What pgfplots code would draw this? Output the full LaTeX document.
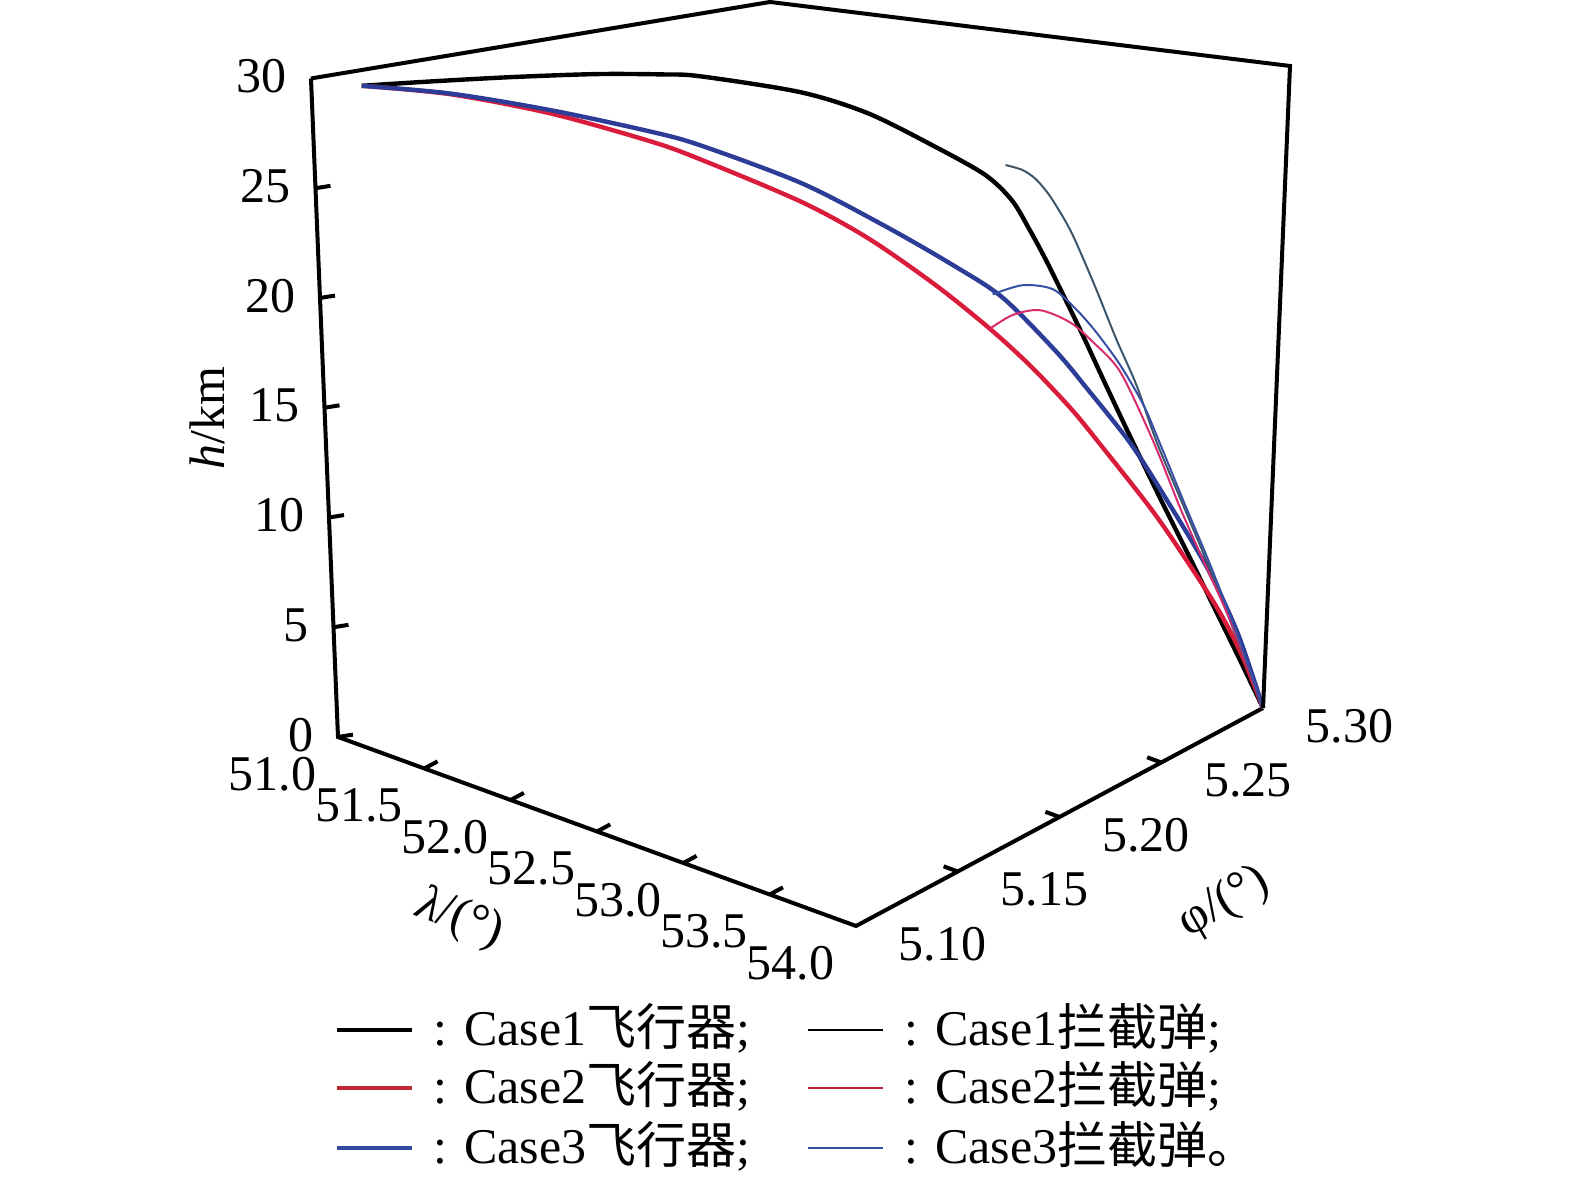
\documentclass[border=0pt]{standalone}
\usepackage{fontspec}
\setmainfont{Liberation Serif}
\newfontfamily\cjk{Noto Sans CJK SC}
\usepackage{pgfplots}
\pgfplotsset{compat=1.18}
\definecolor{cred}{RGB}{218,28,60}
\definecolor{cblue}{RGB}{45,60,150}
\definecolor{ione}{RGB}{60,85,105}
\definecolor{itwo}{RGB}{215,45,110}
\definecolor{ithree}{RGB}{55,80,165}
\definecolor{lred}{RGB}{190,40,50}
\definecolor{lblue}{RGB}{50,75,160}
\begin{document}
\begin{tikzpicture}[font=\fontsize{12.5}{15}\selectfont]
\begin{axis}[
  x={(43.17pt,-15.75pt)}, y={(508.75pt,272.5pt)}, z={(-0.225pt,5.4875pt)},
  xmin=51, xmax=54, ymin=5.10, ymax=5.30, zmin=0, zmax=30,
  hide axis, clip=false,
]
% box edges (front)
\draw[line width=1pt, line join=miter] (axis cs:51,5.10,30) -- (axis cs:51,5.10,0) -- (axis cs:54,5.10,0) -- (axis cs:54,5.30,0);
% ticks
\pgfplotsinvokeforeach{0,5,10,15,20,25}{\draw[line width=1pt] (axis cs:51,5.10,#1) -- ++(3.75pt,0.6pt);}
\pgfplotsinvokeforeach{51.5,52.0,52.5,53.0,53.5}{\draw[line width=1pt] (axis cs:#1,5.10,0) -- ++(3.3pt,1.77pt);}
\pgfplotsinvokeforeach{5.15,5.20,5.25}{\draw[line width=1pt] (axis cs:54,#1,0) -- ++(-3.54pt,1.29pt);}
% tick labels
\pgfplotsinvokeforeach{0,5,10,15,20,25,30}{\node[anchor=east,inner sep=0pt,xshift=-6pt,yshift=0.5pt] at (axis cs:51,5.10,#1) {#1};}
\pgfplotsinvokeforeach{51.0,51.5,52.0,52.5,53.0,53.5,54.0}{\node[anchor=north east,inner sep=0pt,xshift=-5.25pt,yshift=-4.75pt] at (axis cs:#1,5.10,0) {#1};}
\pgfplotsinvokeforeach{5.10,5.15,5.20,5.25,5.30}{\node[anchor=north west,inner sep=0pt,xshift=10.5pt,yshift=0pt] at (axis cs:54,#1,0) {#1};}

% Case1 vehicle
\addplot3[black, line width=1.1pt, smooth, no marks] coordinates {
(51.150,5.1120,29.50) (51.361,5.1271,29.55) (51.637,5.1452,29.65) (51.912,5.1632,29.68)
(52.127,5.1773,29.58) (52.248,5.1852,29.45) (52.573,5.2065,28.60) (52.791,5.2208,27.55)
(53.005,5.2348,25.95) (53.165,5.2453,24.60) (53.249,5.2508,23.40) (53.304,5.2544,22.00)
(53.350,5.2574,20.70) (53.411,5.2614,18.80) (53.464,5.2649,17.10) (53.524,5.2688,15.10)
(53.600,5.2738,12.60) (53.691,5.2798,9.70) (53.774,5.2852,7.15) (53.852,5.2903,4.70)
(53.925,5.2951,2.40) (54.000,5.3000,0.00)};
% Case2 vehicle
\addplot3[cred, line width=1.1pt, smooth, no marks] coordinates {
(51.150,5.1120,29.50) (51.428,5.1315,28.95) (51.753,5.1528,27.95) (52.077,5.1740,26.55)
(52.240,5.1847,25.65) (52.562,5.2058,23.60) (52.776,5.2198,21.85) (52.988,5.2337,19.65)
(53.159,5.2449,17.60) (53.287,5.2533,15.85) (53.411,5.2614,13.90) (53.493,5.2668,12.40)
(53.661,5.2778,9.20) (53.762,5.2844,7.00) (53.864,5.2911,4.60) (53.936,5.2958,2.50)
(54.000,5.3000,0.00)};
% Case3 vehicle
\addplot3[cblue, line width=1.1pt, smooth, no marks] coordinates {
(51.150,5.1120,29.50) (51.428,5.1315,28.98) (51.753,5.1528,28.10) (52.077,5.1740,27.00)
(52.240,5.1847,26.30) (52.565,5.2060,24.45) (52.831,5.2234,22.40) (53.046,5.2375,20.55)
(53.205,5.2479,19.00) (53.371,5.2588,16.50) (53.466,5.2650,14.80) (53.603,5.2740,12.20)
(53.713,5.2812,9.60) (53.838,5.2894,6.40) (53.928,5.2953,3.40) (54.000,5.3000,0.00)};
% Case1 interceptor
\addplot3[ione, line width=0.5pt, smooth, no marks] coordinates {
(53.232,5.2497,25.03) (53.287,5.2533,24.78) (53.328,5.2560,24.36) (53.370,5.2588,23.61)
(53.418,5.2619,22.45) (53.451,5.2641,21.44) (53.511,5.2680,19.27) (53.570,5.2719,16.96)
(53.630,5.2758,14.84) (53.689,5.2796,12.22) (53.769,5.2849,9.22) (53.850,5.2901,6.22)
(53.926,5.2952,3.09) (54.000,5.3000,0.00)};
% Case2 interceptor
\addplot3[itwo, line width=0.5pt, smooth, no marks] coordinates {
(53.159,5.2449,17.60) (53.236,5.2499,18.20) (53.325,5.2558,18.38) (53.422,5.2621,17.79)
(53.495,5.2669,16.85) (53.579,5.2725,15.45) (53.676,5.2788,12.31) (53.756,5.2840,9.22)
(53.816,5.2879,7.10) (53.916,5.2942,3.69) (54.000,5.3000,0.00)};
% Case3 interceptor
\addplot3[ithree, line width=0.5pt, smooth, no marks] coordinates {
(53.173,5.2458,19.16) (53.272,5.2523,19.54) (53.370,5.2587,19.32) (53.443,5.2635,18.38)
(53.506,5.2676,17.31) (53.580,5.2725,15.77) (53.651,5.2771,13.92) (53.702,5.2804,12.07)
(53.770,5.2849,9.45) (53.844,5.2898,6.68) (53.924,5.2950,3.45) (54.000,5.3000,0.00)};

\coordinate (O) at (axis cs:51,5.10,0);
\coordinate (TL) at (axis cs:51,5.10,30);
\coordinate (BR) at (axis cs:54,5.30,0);
\end{axis}
% back/top box edges
\draw[line width=1pt, line join=miter] (TL) -- ([shift={(108pt,183.75pt)}]O) -- ([shift={(238pt,167.75pt)}]O) -- (BR);
% axis labels
\node[rotate=90] at ([shift={(-32.75pt,79.75pt)}]O) {\textit{h}/km};
\node[rotate=-20] at ([shift={(30.5pt,-45.5pt)}]O) {\textit{λ}/(°)};
\node[rotate=30] at ([shift={(221.5pt,-41.5pt)}]O) {φ/(°)};
% legend
\draw[black, line width=1.1pt] ([shift={(-0.25pt,-73.25pt)}]O) -- ++(18.75pt,0);
\draw[lred, line width=1.1pt] ([shift={(-0.25pt,-87.75pt)}]O) -- ++(18.75pt,0);
\draw[lblue, line width=1.1pt] ([shift={(-0.25pt,-102.75pt)}]O) -- ++(18.75pt,0);
\draw[black, line width=0.5pt] ([shift={(117.5pt,-73.25pt)}]O) -- ++(18.75pt,0);
\draw[lred, line width=0.5pt] ([shift={(117.5pt,-87.75pt)}]O) -- ++(18.75pt,0);
\draw[lblue, line width=0.5pt] ([shift={(117.5pt,-102.75pt)}]O) -- ++(18.75pt,0);
\node[anchor=base west, inner sep=0pt] at ([shift={(23.75pt,-77.25pt)}]O) {: Case1{\cjk 飞行器};};
\node[anchor=base west, inner sep=0pt] at ([shift={(23.75pt,-91.75pt)}]O) {: Case2{\cjk 飞行器};};
\node[anchor=base west, inner sep=0pt] at ([shift={(23.75pt,-106.75pt)}]O) {: Case3{\cjk 飞行器};};
\node[anchor=base west, inner sep=0pt] at ([shift={(141.5pt,-77.25pt)}]O) {: Case1{\cjk 拦截弹};};
\node[anchor=base west, inner sep=0pt] at ([shift={(141.5pt,-91.75pt)}]O) {: Case2{\cjk 拦截弹};};
\node[anchor=base west, inner sep=0pt] at ([shift={(141.5pt,-106.75pt)}]O) {: Case3{\cjk 拦截弹。}};
\pgfresetboundingbox
\useasboundingbox ([shift={(-84.5pt,184.25pt)}]O) rectangle ([shift={(309.25pt,-112pt)}]O);
\end{tikzpicture}
\end{document}
